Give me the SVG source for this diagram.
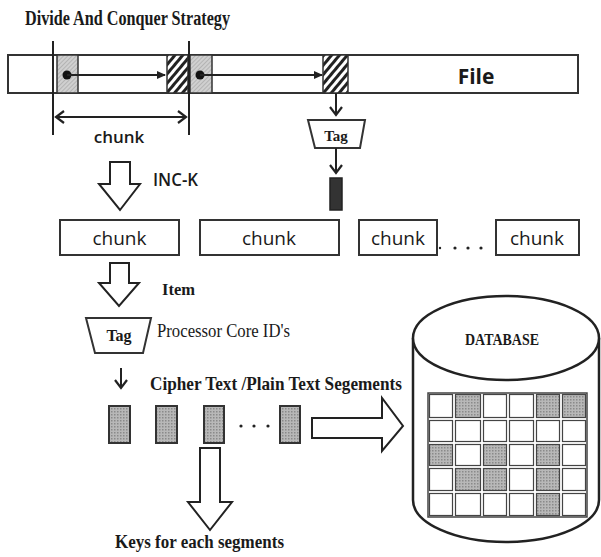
<svg xmlns="http://www.w3.org/2000/svg" width="601" height="557" viewBox="0 0 601 557">
<style>
.serif{font-family:"Liberation Serif","DejaVu Serif",serif;font-weight:bold;fill:#1a1a1a}
.sans{font-family:"Open Sans","Liberation Sans",sans-serif;fill:#1a1a1a}
.box{fill:#fff;stroke:#333;stroke-width:2}
.hollow{fill:#fff;stroke:#222;stroke-width:2;stroke-linejoin:miter}
.ln{stroke:#222;stroke-width:2;fill:none}
.seg{fill:url(#dots);stroke:#333;stroke-width:2}
.cell{fill:#fff;stroke:#444;stroke-width:1.2}
.gcell{fill:url(#dots);stroke:#444;stroke-width:1.2}
</style>
<defs>
<pattern id="fine" width="3" height="3" patternUnits="userSpaceOnUse" patternTransform="rotate(45)">
<rect width="3" height="3" fill="#d0d0d0"/><line x1="0" y1="0" x2="0" y2="3" stroke="#999" stroke-width="1"/>
</pattern>
<pattern id="hatch" width="6" height="6" patternUnits="userSpaceOnUse" patternTransform="rotate(40)">
<rect width="6" height="6" fill="#fff"/><line x1="1.5" y1="0" x2="1.5" y2="6" stroke="#222" stroke-width="3"/>
</pattern>
<pattern id="dots" width="3" height="3" patternUnits="userSpaceOnUse">
<rect width="3" height="3" fill="#b8b8b8"/><rect width="1.5" height="1.5" fill="#8a8a8a"/>
</pattern>
<marker id="fa" markerWidth="10" markerHeight="10" refX="8" refY="5" orient="auto" markerUnits="userSpaceOnUse">
<path d="M0,1 L9,5 L0,9 Z" fill="#222"/>
</marker>
<marker id="ch" markerWidth="14" markerHeight="14" refX="11" refY="7" orient="auto-start-reverse" markerUnits="userSpaceOnUse">
<path d="M3,1 L11,7 L3,13" fill="none" stroke="#222" stroke-width="2.2"/>
</marker>
</defs>
<rect width="601" height="557" fill="#fff"/>

<text class="serif" x="25" y="25" font-size="20" textLength="205" lengthAdjust="spacingAndGlyphs">Divide And Conquer Strategy</text>

<g id="file">
<rect x="8" y="55" width="570" height="38" class="box"/>
<rect x="57" y="55" width="21" height="38" fill="url(#fine)" stroke="#333" stroke-width="1.5"/>
<rect x="167" y="55" width="21" height="38" fill="url(#hatch)" stroke="#333" stroke-width="1.5"/>
<rect x="190" y="55" width="22" height="38" fill="url(#fine)" stroke="#333" stroke-width="1.5"/>
<rect x="323" y="55" width="25" height="38" fill="url(#hatch)" stroke="#333" stroke-width="1.5"/>
<circle cx="67" cy="75" r="4.5" fill="#111"/>
<circle cx="200" cy="75" r="4.5" fill="#111"/>
<text class="sans" x="476" y="84" font-size="21" font-weight="bold" text-anchor="middle">File</text>
</g>

<g id="chunk-span">
<line x1="53" y1="41" x2="53" y2="135" class="ln"/>
<line x1="189" y1="41" x2="189" y2="135" class="ln"/>
<text class="sans" x="119" y="143" font-size="17" text-anchor="middle" style="font-weight:600">chunk</text>
</g>

<g id="tag-top">
<polygon points="308,120 365,120 360,148 315,148" class="box"/>
<text class="serif" x="336" y="141" font-size="15" text-anchor="middle">Tag</text>
</g>
<rect id="tag-out" x="330" y="178" width="12" height="32" fill="#333" stroke="#222" stroke-width="1.5"/>

<text class="sans" x="153" y="186" font-size="18" textLength="45" lengthAdjust="spacingAndGlyphs" style="font-weight:600">INC-K</text>

<g id="chunk1"><rect x="60" y="220" width="119" height="35" class="box"/><text class="sans" x="119.5" y="245" font-size="19" text-anchor="middle">chunk</text></g>
<g id="chunk2"><rect x="200" y="220" width="139" height="35" class="box"/><text class="sans" x="269" y="245" font-size="19" text-anchor="middle">chunk</text></g>
<g id="chunk3"><rect x="359" y="220" width="78" height="35" class="box"/><text class="sans" x="398" y="245" font-size="19" text-anchor="middle">chunk</text></g>
<g id="chunk4"><rect x="496" y="220" width="83" height="35" class="box"/><text class="sans" x="537" y="245" font-size="19" text-anchor="middle">chunk</text></g>
<g id="dots1" fill="#222"><circle cx="440" cy="248" r="1.2"/><circle cx="455" cy="248" r="1.6"/><circle cx="468" cy="248" r="1.6"/><circle cx="481" cy="248" r="1.6"/></g>

<text class="serif" x="162" y="295" font-size="17" textLength="33" lengthAdjust="spacingAndGlyphs">Item</text>

<g id="tag-core">
<polygon points="86,318 151,318 143,353 95,353" class="box"/>
<text class="serif" x="119" y="341" font-size="16" text-anchor="middle">Tag</text>
</g>
<text class="serif" x="157" y="337" font-size="19" textLength="133" lengthAdjust="spacingAndGlyphs" style="font-weight:normal">Processor Core ID's</text>

<text class="serif" x="150" y="390" font-size="19" textLength="252" lengthAdjust="spacingAndGlyphs">Cipher Text /Plain Text Segements</text>

<g id="segments">
<rect x="109" y="406" width="21" height="37" class="seg"/>
<rect x="156" y="406" width="21" height="37" class="seg"/>
<rect x="204" y="406" width="20" height="37" class="seg"/>
<rect x="280" y="406" width="20" height="37" class="seg"/>
<g fill="#222"><circle cx="241" cy="426" r="1.6"/><circle cx="254" cy="426" r="1.6"/><circle cx="268" cy="426" r="1.6"/></g>
</g>

<text class="serif" x="115" y="548" font-size="18" textLength="169" lengthAdjust="spacingAndGlyphs">Keys for each segments</text>

<g id="database">
<path d="M413,338 L413,500 A93,42 0 0 0 599,500 L599,338" fill="#fff" stroke="#222" stroke-width="2.5"/>
<ellipse cx="506" cy="338" rx="93" ry="42" fill="#fff" stroke="#222" stroke-width="2.5"/>
<text class="serif" x="502" y="345" font-size="17" text-anchor="middle" textLength="74" lengthAdjust="spacingAndGlyphs">DATABASE</text>
<rect x="428" y="393" width="159" height="124" fill="#fff" stroke="#444" stroke-width="1.5"/>
<g>
<rect x="429.5" y="394.5" width="23" height="23" class="cell"/><rect x="455.5" y="394.5" width="25" height="23" class="gcell"/><rect x="483.5" y="394.5" width="23" height="23" class="cell"/><rect x="509.5" y="394.5" width="24" height="23" class="cell"/><rect x="536.5" y="394.5" width="23" height="23" class="gcell"/><rect x="562.5" y="394.5" width="23" height="23" class="gcell"/>
<rect x="429.5" y="420.5" width="23" height="21" class="cell"/><rect x="455.5" y="420.5" width="25" height="21" class="cell"/><rect x="483.5" y="420.5" width="23" height="21" class="cell"/><rect x="509.5" y="420.5" width="24" height="21" class="cell"/><rect x="536.5" y="420.5" width="23" height="21" class="cell"/><rect x="562.5" y="420.5" width="23" height="21" class="cell"/>
<rect x="429.5" y="444.5" width="23" height="21" class="gcell"/><rect x="455.5" y="444.5" width="25" height="21" class="cell"/><rect x="483.5" y="444.5" width="23" height="21" class="gcell"/><rect x="509.5" y="444.5" width="24" height="21" class="cell"/><rect x="536.5" y="444.5" width="23" height="21" class="gcell"/><rect x="562.5" y="444.5" width="23" height="21" class="cell"/>
<rect x="429.5" y="468.5" width="23" height="22" class="cell"/><rect x="455.5" y="468.5" width="25" height="22" class="gcell"/><rect x="483.5" y="468.5" width="23" height="22" class="gcell"/><rect x="509.5" y="468.5" width="24" height="22" class="cell"/><rect x="536.5" y="468.5" width="23" height="22" class="gcell"/><rect x="562.5" y="468.5" width="23" height="22" class="cell"/>
<rect x="429.5" y="493.5" width="23" height="22" class="cell"/><rect x="455.5" y="493.5" width="25" height="22" class="cell"/><rect x="483.5" y="493.5" width="23" height="22" class="cell"/><rect x="509.5" y="493.5" width="24" height="22" class="cell"/><rect x="536.5" y="493.5" width="23" height="22" class="gcell"/><rect x="562.5" y="493.5" width="23" height="22" class="cell"/>
</g>
</g>

<g id="connectors">
<line x1="67" y1="75" x2="165" y2="75" class="ln" marker-end="url(#fa)"/>
<line x1="200" y1="75" x2="322" y2="75" class="ln" marker-end="url(#fa)"/>
<line x1="56" y1="117" x2="186" y2="117" class="ln" marker-start="url(#ch)" marker-end="url(#ch)"/>
<line x1="336" y1="93" x2="336" y2="115" class="ln" marker-end="url(#ch)"/>
<line x1="336" y1="148" x2="336" y2="173" class="ln" marker-end="url(#ch)"/>
<line x1="121" y1="368" x2="121" y2="388" class="ln" marker-end="url(#ch)"/>
<polygon points="110,162 130,162 130,184 140,184 120,210 99,184 110,184" class="hollow"/>
<polygon points="110,263 129,263 129,283 139,283 119,306 99,283 110,283" class="hollow"/>
<polygon points="312,418 382,418 382,398 403,426 382,451 382,438 312,438" class="hollow"/>
<polygon points="200,448 220,448 220,502 232,502 210,530 188,502 200,502" class="hollow"/>
</g>
</svg>
